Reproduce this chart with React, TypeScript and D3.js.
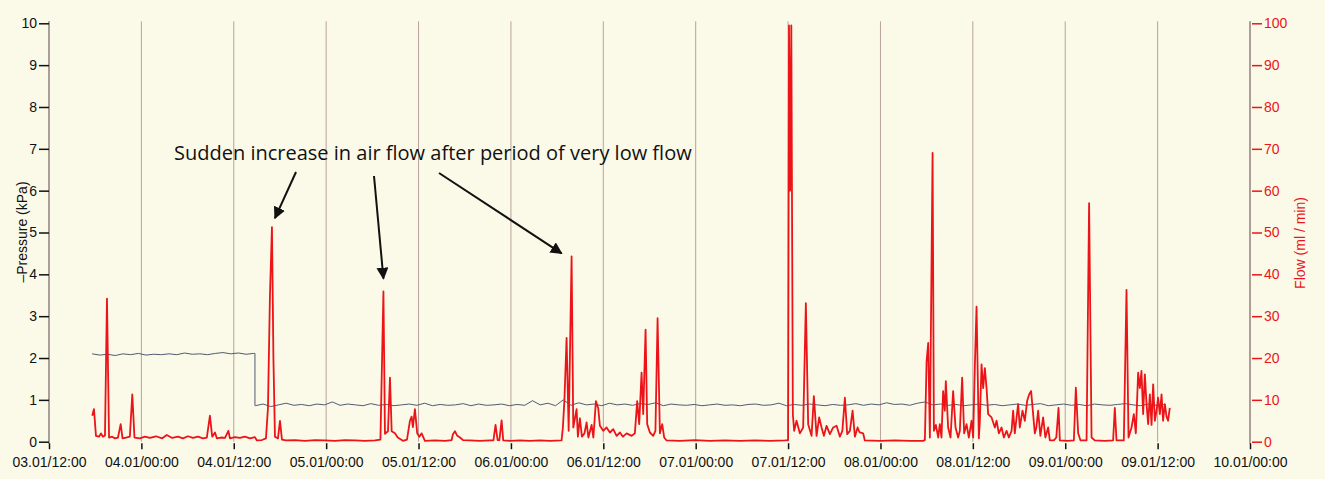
import { useEffect, useRef } from "react";
import * as d3 from "d3";

// time axis: hours since 03.01 12:00
const startTime = new Date(2011, 0, 3, 12, 0);
const endTime = new Date(2011, 0, 10, 0, 0);

const pressureTicks = [0, 1, 2, 3, 4, 5, 6, 7, 8, 9, 10];
const flowTicks = [0, 10, 20, 30, 40, 50, 60, 70, 80, 90, 100];

// flow (ml/min), [hour, value]
const flowDay3: [number, number][] = [
  [5.62, 6.2], [5.84, 7.8], [6.1, 1.4], [6.5, 1.2], [6.75, 2.0], [7.0, 1.2], [7.27, 1.5],
  [7.53, 34.2], [7.8, 1.0], [8.2, 1.2], [8.57, 0.8], [8.96, 1.0], [9.31, 4.2], [9.55, 0.8],
  [10.0, 1.0], [10.5, 1.2], [10.82, 11.3], [11.1, 1.0],
];
const flowDay4: [number, number][] = [
  [11.8, 0.8], [12.47, 1.2], [13.1, 0.9], [13.9, 1.3], [14.7, 0.8], [15.3, 1.6], [16.0, 0.9],
  [16.75, 1.2], [17.4, 0.8], [18.05, 1.3], [18.7, 0.9], [19.35, 1.2], [20.0, 0.8], [20.5, 1.0],
  [20.9, 6.2], [21.2, 1.2], [21.56, 2.2], [21.8, 0.8], [22.34, 1.0], [22.86, 0.9], [23.3, 2.6],
  [23.5, 0.8], [24.16, 1.1], [24.8, 0.9], [25.45, 1.2], [26.1, 0.8], [26.75, 1.1], [27.0, 0.3],
  [27.66, 0.4], [28.18, 0.8], [28.44, 8], [28.7, 35], [28.96, 51.3], [29.15, 20], [29.35, 1.2],
  [29.74, 0.8], [30.0, 5.0], [30.26, 0.5], [30.78, 0.3], [31.95, 0.4], [33.25, 0.2], [34.55, 0.4],
  [35.84, 0.3],
];
const flowDay5: [number, number][] = [
  [37.14, 0.2], [38.44, 0.4], [39.74, 0.3], [41.04, 0.2], [42.34, 0.3], [43.05, 0.5],
  [43.44, 35.9], [43.64, 1.9], [44.03, 2.5], [44.29, 15.3], [44.51, 2.5], [44.94, 2.0],
  [45.3, 1.0], [45.97, 0.2], [46.5, 0.5], [46.88, 5.0], [47.1, 6.0], [47.27, 3.5], [47.53, 7.8],
  [47.83, 2.0], [48.1, 1.2], [48.4, 2.0], [48.83, 0.2], [50.13, 0.3], [51.43, 0.2], [52.3, 0.4],
  [52.47, 1.8], [52.73, 2.5], [53.0, 1.5], [53.38, 1.0], [53.77, 0.4], [54.68, 0.3],
  [55.97, 0.2], [57.27, 0.3], [57.73, 0.3], [58.0, 4.0], [58.27, 0.4], [58.5, 0.4],
  [58.79, 5.1], [59.0, 0.3], [59.87, 0.2],
];
const flowDay6: [number, number][] = [
  [61.17, 0.3], [62.47, 0.2], [63.77, 0.3], [65.06, 0.2], [66.58, 0.3], [66.75, 3.4],
  [66.95, 10], [67.23, 24.8], [67.5, 2.6], [67.88, 44.3], [68.1, 3.4], [68.53, 7.8], [68.7, 1.2],
  [68.96, 5.6], [69.22, 1.2], [69.55, 2.0], [69.83, 4.6], [70.06, 1.0], [70.48, 4.0],
  [70.71, 1.0], [71.04, 9.7], [71.34, 8.0], [71.56, 3.8], [71.99, 2.6], [72.42, 3.4],
  [72.86, 2.2], [73.29, 3.0], [73.73, 1.4], [74.16, 2.2], [74.55, 1.2], [75.03, 2.0],
  [75.68, 1.4], [76.1, 2.0], [76.4, 9.7], [76.66, 4.2], [76.97, 16.5], [77.18, 6.6],
  [77.49, 26.8], [77.7, 4.2], [78.05, 2.2], [78.48, 1.4], [78.77, 2.6], [79.05, 29.5],
  [79.35, 2.0], [79.65, 4.2], [79.91, 1.0], [80.22, 0.3], [81.95, 0.2], [83.9, 0.4],
];
const flowDay7: [number, number][] = [
  [85.84, 0.2], [87.8, 0.3], [89.74, 0.2], [91.69, 0.3], [93.64, 0.2], [95.58, 0.3],
  [96.0, 0.4], [96.12, 99.5], [96.26, 60], [96.42, 99.5], [96.62, 6.6], [96.79, 2.6], [97.1, 5.0],
  [97.53, 2.0], [97.96, 3.4], [98.31, 33.1], [98.61, 4.2], [99.05, 1.4], [99.35, 10.9],
  [99.7, 1.4], [100.04, 5.8], [100.35, 3.4], [100.65, 1.4], [101.0, 3.8], [101.43, 1.8],
  [101.86, 3.4], [102.3, 3.8], [102.73, 1.2], [103.05, 2.6], [103.38, 10.5], [103.68, 1.8],
  [104.03, 2.6], [104.38, 7.4], [104.68, 1.2], [105.03, 3.4], [105.2, 2.6], [105.32, 2.2],
  [105.75, 2.0], [105.97, 0.3], [107.92, 0.2],
];
const flowDay8: [number, number][] = [
  [109.87, 0.3], [111.82, 0.2], [113.55, 0.2], [113.77, 0.4], [113.99, 19.2], [114.2, 23.6],
  [114.42, 1.0], [114.77, 69.0], [114.94, 2.6], [115.2, 4.0], [115.5, 1.0], [115.71, 4.2],
  [115.93, 1.0], [116.14, 12.1], [116.36, 7.4], [116.49, 14.5], [116.79, 3.4], [117.1, 1.0],
  [117.44, 12.1], [117.75, 3.4], [118.09, 1.0], [118.31, 2.6], [118.61, 15.3], [118.87, 2.0],
  [119.18, 4.2], [119.48, 1.0], [119.83, 5.0], [120.04, 1.0], [120.26, 18.0], [120.48, 32.3],
  [120.78, 0.8], [120.91, 5.0], [121.13, 18.5], [121.34, 12.8], [121.56, 17.6], [121.78, 12.8],
  [121.99, 6.6], [122.43, 5.8], [122.86, 3.4], [123.08, 5.0], [123.38, 2.0], [123.73, 3.4],
  [124.03, 1.0], [124.38, 2.6], [124.68, 1.0], [125.03, 2.6], [125.23, 7.4], [125.45, 2.0],
  [125.88, 9.0], [126.1, 3.4], [126.45, 7.4], [126.75, 5.0], [127.05, 9.7], [127.31, 11.3],
  [127.57, 12.1], [127.83, 6.6], [128.05, 2.0], [128.25, 3.4], [128.48, 7.4], [128.77, 1.4],
  [129.13, 5.8], [129.42, 1.0], [129.78, 3.4], [130.0, 0.3], [130.52, 0.3], [130.84, 1.0],
  [131.13, 8.1], [131.3, 0.3],
];
const flowDay9: [number, number][] = [
  [132.34, 0.2], [133.12, 0.3], [133.38, 12.9], [133.68, 2.0], [133.99, 0.3], [134.77, 0.3],
  [135.1, 57.0], [135.42, 1.0], [135.84, 0.3], [137.14, 0.2], [138.22, 0.3], [138.44, 8.1],
  [138.66, 0.3], [139.61, 0.3], [139.96, 36.3], [140.22, 1.0], [140.61, 3.4], [140.91, 6.6],
  [141.17, 2.0], [141.47, 16.5], [141.69, 12.8], [141.9, 16.9], [142.12, 6.6], [142.34, 16.1],
  [142.56, 9.0], [142.77, 4.2], [142.99, 11.3], [143.21, 4.0], [143.42, 13.7], [143.64, 5.0],
  [143.86, 7.4], [144.06, 10.5], [144.29, 6.6], [144.51, 11.3], [144.71, 5.0], [144.94, 9.0],
  [145.16, 6.0], [145.36, 5.0], [145.58, 8.1],
];

// pressure (kPa), hourly readings
const pressureHighStart = 5.6;
const pressureHigh = [
  2.1, 2.07, 2.09, 2.06, 2.1, 2.08, 2.11, 2.07, 2.09, 2.08, 2.1, 2.08, 2.12, 2.09, 2.1, 2.08,
  2.11, 2.13, 2.1, 2.12, 2.09, 2.11,
];
const pressureDropHour = 26.75;
const pressureLowStart = 26.8;
const pressureLow = [
  0.86, 0.9, 0.84, 0.88, 0.92, 0.87, 0.89, 0.86, 0.9, 0.88, 0.95, 0.87,
  0.9, 0.88, 0.86, 0.91, 0.87, 0.89, 0.86, 0.88, 0.9, 0.87, 0.92, 0.86,
  0.89, 0.87, 0.88, 0.91, 0.86, 0.9, 0.87, 0.88, 0.9, 0.86, 0.89, 0.87,
  0.98, 0.88, 0.92, 0.86, 1.0, 0.87, 0.93, 0.88, 0.9, 0.86, 0.92, 0.88,
  0.9, 0.87, 0.91, 0.89, 0.93, 0.86, 0.9, 0.88, 0.87, 0.89, 0.86, 0.88,
  0.9, 0.87, 0.88, 0.86, 0.89, 0.9, 0.87, 0.88, 0.92, 0.86, 0.89, 0.87,
  0.9, 0.88, 0.86, 0.89, 0.87, 0.88, 0.91, 0.87, 0.9, 0.88, 0.93, 0.89,
  0.9, 0.87, 0.92, 0.95, 0.88, 0.9, 0.87, 0.89, 0.86, 0.88, 0.9, 0.87,
  0.89, 0.86, 0.88, 0.9, 0.87, 0.89, 0.91, 0.86, 0.88, 0.9, 0.87, 0.89,
  0.86, 0.9, 0.88, 0.87, 0.89, 0.91, 0.88, 0.86, 0.9, 0.87, 0.89,
];

const annotationText = "Sudden increase in air flow after period of very low flow";
// peaks the arrows point at: [hour, flow]
const annotatedPeaks: [number, number][] = [[28.96, 51.3], [43.44, 35.9], [67.88, 44.3]];

const RED = "#ec1419";

export default function App() {
  const svgRef = useRef<SVGSVGElement>(null);

  useEffect(() => {
    if (!svgRef.current) return;
    const svg = d3.select(svgRef.current);
    svg.selectAll("*").remove();

    const W = 1325, H = 479;
    const left = 49, right = 1250, top = 23.3, bottom = 441.7;
    const font = "'Liberation Sans', Arial, Helvetica, sans-serif";
    const at = (h: number) => new Date(startTime.getTime() + h * 3600000);

    const x = d3.scaleTime().domain([startTime, endTime]).range([left, right]);
    const yP = d3.scaleLinear().domain([0, 10]).range([bottom, top]);
    const yF = d3.scaleLinear().domain([0, 100]).range([bottom, top]);

    svg.append("rect").attr("width", W).attr("height", H).attr("fill", "#fbfae8");

    const xTicks = d3.timeHour.every(12)!.range(startTime, new Date(endTime.getTime() + 1));

    // vertical grid
    svg.append("g")
      .selectAll("line")
      .data(xTicks)
      .enter()
      .append("line")
      .attr("x1", d => x(d)).attr("x2", d => x(d))
      .attr("y1", top - 2).attr("y2", bottom)
      .attr("stroke", "#a88c8c")
      .attr("stroke-width", 1)
      .attr("opacity", 0.8);

    // axis lines
    [left, right].forEach(px => {
      svg.append("line")
        .attr("x1", px).attr("x2", px)
        .attr("y1", top - 2).attr("y2", bottom + 2)
        .attr("stroke", "#8d8080").attr("stroke-width", 1.2);
    });

    // left axis
    const gl = svg.append("g")
      .attr("transform", `translate(${left},0)`)
      .call(d3.axisLeft(yP).tickValues(pressureTicks).tickSize(10).tickPadding(2));
    gl.select(".domain").remove();
    gl.selectAll("line").attr("stroke", "#111").attr("stroke-width", 1.5);
    gl.selectAll("text").attr("fill", "#111").style("font", `14px ${font}`);

    // right axis
    const gr = svg.append("g")
      .attr("transform", `translate(${right + 2},0)`)
      .call(d3.axisRight(yF).tickValues(flowTicks).tickSize(10).tickPadding(2));
    gr.select(".domain").remove();
    gr.selectAll("line").attr("stroke", RED).attr("stroke-width", 1.5);
    gr.selectAll("text").attr("fill", RED).style("font", `14px ${font}`);

    // bottom axis
    const gb = svg.append("g")
      .attr("transform", `translate(0,${bottom + 1.5})`)
      .call(d3.axisBottom(x).tickValues(xTicks).tickSize(6).tickPadding(8)
        .tickFormat(d3.timeFormat("%d.%m/%H:%M") as any));
    gb.select(".domain").remove();
    gb.selectAll("line").attr("stroke", "#111").attr("stroke-width", 1.5);
    gb.selectAll("text").attr("fill", "#111").style("font", `14px ${font}`);

    // axis titles
    svg.append("text")
      .attr("transform", `translate(27,232) rotate(-90)`)
      .attr("text-anchor", "middle")
      .attr("fill", "#111")
      .style("font", `14px ${font}`)
      .text("–Pressure (kPa)");
    svg.append("text")
      .attr("transform", `translate(1305,243) rotate(-90)`)
      .attr("text-anchor", "middle")
      .attr("fill", RED)
      .style("font", `14px ${font}`)
      .text("Flow (ml / min)");

    // pressure line
    const pressure: [number, number][] = [
      ...pressureHigh.map((v, i) => [pressureHighStart + i, v] as [number, number]),
      [pressureDropHour, pressureHigh[pressureHigh.length - 1]],
      [pressureDropHour, pressureLow[0]],
      ...pressureLow.map((v, i) => [pressureLowStart + i, v] as [number, number]),
    ];
    const pLine = d3.line<[number, number]>().x(d => x(at(d[0]))).y(d => yP(d[1]));
    svg.append("path")
      .datum(pressure)
      .attr("fill", "none")
      .attr("stroke", "#4f5c70")
      .attr("stroke-width", 1)
      .attr("d", pLine);

    // flow line
    const flow = [...flowDay3, ...flowDay4, ...flowDay5, ...flowDay6, ...flowDay7, ...flowDay8, ...flowDay9];
    const fLine = d3.line<[number, number]>().x(d => x(at(d[0]))).y(d => yF(d[1]));
    svg.append("path")
      .datum(flow)
      .attr("fill", "none")
      .attr("stroke", RED)
      .attr("stroke-width", 1.8)
      .attr("stroke-linejoin", "round")
      .attr("d", fLine);

    // annotation
    svg.append("defs").append("marker")
      .attr("id", "arrow")
      .attr("viewBox", "0 0 10 10")
      .attr("refX", 9).attr("refY", 5)
      .attr("markerWidth", 6).attr("markerHeight", 6)
      .attr("markerUnits", "strokeWidth")
      .attr("orient", "auto")
      .append("path")
      .attr("d", "M0,0 L10,5 L0,10 z")
      .attr("fill", "#111");

    const tx = 174, ty = 160;
    svg.append("text")
      .attr("x", tx).attr("y", ty)
      .attr("fill", "#111")
      .style("font", `20px 'Open Sans', sans-serif`)
      .text(annotationText);

    const tails = [[296, 172], [374, 176], [439, 173]];
    const offsets = [[3, -9], [0, -13], [-10, -3]];
    annotatedPeaks.forEach((p, i) => {
      svg.append("line")
        .attr("x1", tails[i][0]).attr("y1", tails[i][1])
        .attr("x2", x(at(p[0])) + offsets[i][0]).attr("y2", yF(p[1]) + offsets[i][1])
        .attr("stroke", "#111")
        .attr("stroke-width", 2)
        .attr("marker-end", "url(#arrow)");
    });
  }, []);

  return (
    <div style={{ position: "absolute", left: 0, top: 0, width: 1325, height: 479 }}>
      <svg ref={svgRef} width={1325} height={479} style={{ display: "block" }}></svg>
    </div>
  );
}
